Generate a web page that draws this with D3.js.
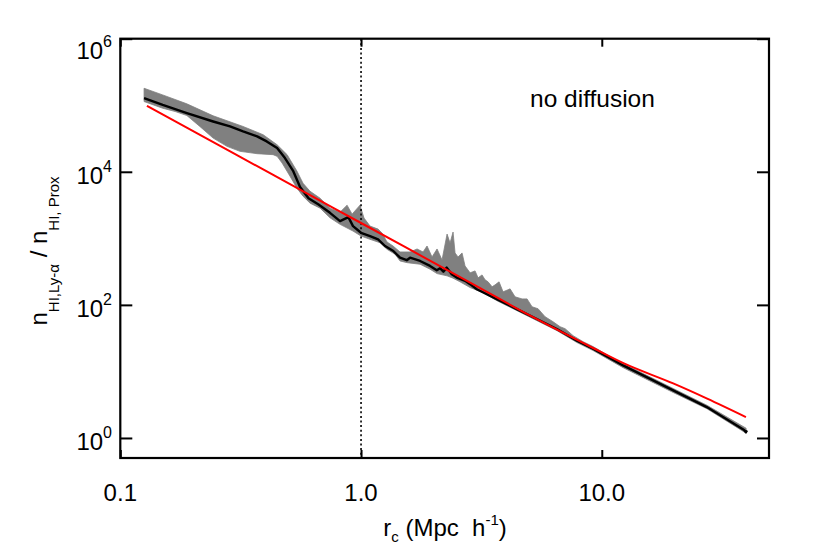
<!DOCTYPE html>
<html><head><meta charset="utf-8">
<script src="https://cdn.jsdelivr.net/npm/d3@7"></script>
<style>
body{margin:0;background:#fff}
text{font-family:"Liberation Sans",Arial,Helvetica,sans-serif;fill:#000;white-space:pre}
</style>
</head><body>
<svg id="c" width="830" height="554"></svg>
<script>
// ---------- data ----------
const xTicks = [0.1, 1, 10];
const xTickLabels = ["0.1", "1.0", "10.0"];
const yTicks = [1, 100, 1e4, 1e6];
const yTickExponents = ["0", "2", "4", "6"];
const markerX = [1];
const annotation = "no diffusion";

// upper edge of grey scatter band [r_c, ratio]
const bandUpper = [
  [0.1255,1.80e5],[0.150,1.43e5],[0.189,1.05e5],[0.243,6.94e4],[0.3235,4.80e4],
  [0.392,3.61e4],[0.448,2.55e4],[0.493,1.81e4],[0.542,1.02e4],[0.574,6730],
  [0.614,5100],[0.676,4010],[0.743,2840],[0.818,2475],[0.875,3150],[0.918,2310],
  [0.990,3150],[1.029,2014],[1.090,1528],[1.177,1377],[1.223,1200],[1.282,881],
  [1.358,767],[1.452,624],[1.598,624],[1.709,692],[1.810,624],[1.880,767],
  [1.972,525],[2.069,692],[2.170,473],[2.277,1159],[2.343,851],[2.411,1243],
  [2.458,603],[2.529,525],[2.628,603],[2.704,385],[2.838,303],[2.976,324],
  [3.063,255],[3.182,282],[3.275,238],[3.370,222],[3.503,187],[3.604,200],
  [3.744,222],[3.890,157],[4.160,174],[4.364,132],[4.666,123],[4.894,123],
  [5.133,93.7],[5.436,87.5],[5.814,66.4],[6.277,55.8],[6.711,47.0],[7.040,43.9],
  [7.600,34.5],[8.362,28.0],[9.203,23.6],[10.83,16.7],[12.26,13.1],[14.43,9.8],
  [19.79,5.55],[27.38,3.09],[39.77,1.40]
];
// lower edge of grey scatter band
const bandLower = [
  [0.1255,1.136e5],[0.150,9.02e4],[0.169,8.05e4],[0.189,7.01e4],[0.214,4.80e4],
  [0.243,3.21e4],[0.2775,2.41e4],[0.314,2.03e4],[0.370,1.87e4],[0.431,1.81e4],
  [0.448,1.71e4],[0.470,1.355e4],[0.507,8570],[0.542,5660],[0.574,4300],
  [0.614,3380],[0.676,2840],[0.743,2035],[0.818,1622],[0.926,1286],[1.0,1082],
  [1.090,966],[1.199,859],[1.282,684],[1.385,576],[1.452,457],[1.553,431],
  [1.759,408],[1.935,344],[2.069,295],[2.277,273],[2.411,252],[2.578,222],
  [2.838,182],[3.213,153],[3.673,115],[4.448,81.6],[5.385,57.8],[6.521,40.9],
  [7.897,27.1],[9.203,20.6],[12.26,11.4],[19.79,4.83],[27.38,2.74],[39.77,1.18]
];
// median curve (black)
const median = [
  [0.1255,1.28e5],[0.150,1.01e5],[0.189,7.6e4],[0.243,5.7e4],[0.2856,4.8e4],
  [0.3235,4.04e4],[0.370,3.4e4],[0.4057,2.86e4],[0.448,2.27e4],[0.483,1.61e4],
  [0.523,1.02e4],[0.558,5900],[0.605,4000],[0.666,3220],[0.700,2840],[0.743,2417],
  [0.818,1816],[0.886,2084],[0.926,1528],[1.0,1213],[1.090,1082],[1.177,966],
  [1.258,767],[1.362,645],[1.452,512],[1.548,469],[1.598,512],[1.759,457],
  [1.935,385],[2.063,332],[2.129,356],[2.198,316],[2.270,363],[2.381,289],
  [2.498,257],[2.704,230],[2.838,205],[3.025,172],[3.663,122],[4.436,86.5],
  [5.37,61.3],[6.504,43.4],[7.875,29.0],[9.23,21.8],[12.26,12.3],[19.8,5.18],
  [27.3,2.91],[39.0,1.32],[39.7,1.22],[40.1,1.30]
];
// fitted relation (red)
const fit = [
  [0.129,98000],[0.3,18400],[0.558,5400],[1.0,1700],[2.84,216],[5.0,70],
  [9.2,22.5],[12.3,13.3],[19.8,6.6],[27.4,3.9],[39.7,2.06]
];

// ---------- layout ----------
const L = 120.3, R = 769, T = 38.7, B = 458;
const svg = d3.select("#c");
const x = d3.scaleLog().domain([0.1, 49.5]).range([L, R]);
const y = d3.scaleLog().domain([0.5, 1e6]).range([B, T]);

svg.append("clipPath").attr("id","clip").append("rect")
  .attr("x",L).attr("y",T).attr("width",R-L).attr("height",B-T);
const plot = svg.append("g").attr("clip-path","url(#clip)");
const line = d3.line().x(d=>x(d[0])).y(d=>y(d[1]));

plot.append("path")
  .attr("d", line(bandUpper.concat(bandLower.slice().reverse())) + "Z")
  .attr("fill","#808080").attr("stroke","#808080").attr("stroke-width",0.8);

plot.selectAll("line.marker").data(markerX).enter().append("line")
  .attr("x1",d=>x(d)).attr("x2",d=>x(d)).attr("y1",T).attr("y2",B)
  .attr("stroke","#000").attr("stroke-width",1.6).attr("stroke-dasharray","2,2.6");

plot.append("path").attr("d", line(median))
  .attr("fill","none").attr("stroke","#000").attr("stroke-width",2.4)
  .attr("stroke-linejoin","round");

plot.append("path").attr("d", line.curve(d3.curveMonotoneX)(fit))
  .attr("fill","none").attr("stroke","#ff0000").attr("stroke-width",2);

// ---------- axes ----------
function styleAxis(g){ g.select(".domain").remove();
  g.selectAll(".tick line").attr("stroke","#000").attr("stroke-width",2);
  g.selectAll(".tick text").remove(); }
svg.append("g").attr("transform",`translate(0,${B})`)
  .call(d3.axisBottom(x).tickValues(xTicks).tickSize(-8)).call(styleAxis);
svg.append("g").attr("transform",`translate(0,${T})`)
  .call(d3.axisTop(x).tickValues(xTicks).tickSize(-8)).call(styleAxis);
svg.append("g").attr("transform",`translate(${L},0)`)
  .call(d3.axisLeft(y).tickValues(yTicks).tickSize(-12)).call(styleAxis);
svg.append("g").attr("transform",`translate(${R},0)`)
  .call(d3.axisRight(y).tickValues(yTicks).tickSize(-12)).call(styleAxis);

svg.append("rect").attr("x",L).attr("y",T).attr("width",R-L).attr("height",B-T)
  .attr("fill","none").attr("stroke","#000").attr("stroke-width",2.2);

// tick labels
svg.selectAll("text.xl").data(xTicks).enter().append("text")
  .attr("x",d=>x(d)).attr("y",501).attr("text-anchor","middle")
  .attr("font-size",24).text((d,i)=>xTickLabels[i]);

const yl = svg.selectAll("text.yl").data(yTicks).enter().append("text")
  .attr("x",112).attr("y",d=>Math.max(y(d)+12.5, T+20)).attr("text-anchor","end")
  .attr("font-size",24);
yl.append("tspan").text("10");
yl.append("tspan").attr("font-size",16).attr("dy",-12).text((d,i)=>yTickExponents[i]);

// annotation
svg.append("text").attr("x",530).attr("y",107).attr("font-size",24.5).text(annotation);

// x title
const xt = svg.append("text").attr("x",445).attr("y",536).attr("text-anchor","middle").attr("font-size",24);
xt.append("tspan").text("r");
xt.append("tspan").attr("font-size",15).attr("dy",6).text("c");
xt.append("tspan").attr("dy",-6).text(" (Mpc  h");
xt.append("tspan").attr("font-size",15).attr("dy",-11).text("-1");
xt.append("tspan").attr("dy",11).text(")");

// y title
const yt = svg.append("text").attr("transform","translate(47,251) rotate(-90)")
  .attr("text-anchor","middle").attr("font-size",24);
yt.append("tspan").text("n");
yt.append("tspan").attr("font-size",15).attr("dy",12).text("HI,Ly-α");
yt.append("tspan").attr("dy",-12).text(" / n");
yt.append("tspan").attr("font-size",15).attr("dy",12).text("HI, Prox");
</script>
</body></html>
